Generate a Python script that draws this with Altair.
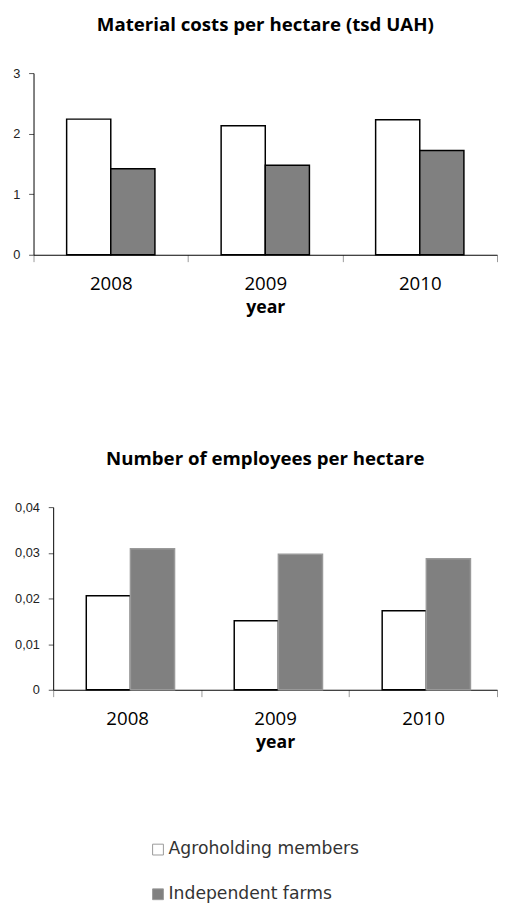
import altair as alt
import pandas as pd

years = ["2008", "2009", "2010"]
series = ["Agroholding members", "Independent farms"]
material_agro = [2.24, 2.13, 2.23]
material_indep = [1.42, 1.48, 1.72]
employees_agro = [0.0206, 0.0151, 0.0173]
employees_indep = [0.0309, 0.0297, 0.0287]

df1 = pd.DataFrame({
    "year": years * 2,
    "series": [series[0]] * 3 + [series[1]] * 3,
    "value": material_agro + material_indep,
})
df2 = pd.DataFrame({
    "year": years * 2,
    "series": [series[0]] * 3 + [series[1]] * 3,
    "value": employees_agro + employees_indep,
})

fill_scale = alt.Scale(domain=series, range=["white", "#808080"])
off_scale = alt.Scale(paddingOuter=0.75, paddingInner=0)


def x_axis():
    return alt.Axis(
        title="year", labelAngle=0, tickBand="extent", tickSize=7, tickColor="#999",
        domainColor="black", labelFont="Open Sans", labelFontSize=19, labelColor="black",
        labelPadding=13, titleFont="Open Sans", titleFontSize=18, titleFontWeight="bold",
        titleColor="black", titlePadding=6, grid=False,
    )


def y_axis(values, label_expr=None, offset=0):
    kw = dict(
        values=values, title=None, grid=False, tickSize=5, tickColor="#555",
        domainColor="black", labelFont="Liberation Sans", labelFontSize=13,
        labelColor="#222", labelPadding=9, offset=offset,
    )
    if label_expr:
        kw["labelExpr"] = label_expr
    return alt.Axis(**kw)


top = alt.Chart(df1).mark_bar(stroke="black", strokeWidth=1.5).encode(
    x=alt.X("year:N", sort=years,
            scale=alt.Scale(paddingInner=0, paddingOuter=0), axis=x_axis()),
    xOffset=alt.XOffset("series:N", sort=series, scale=off_scale),
    y=alt.Y("value:Q", scale=alt.Scale(domain=[0, 3]), axis=y_axis([0, 1, 2, 3])),
    fill=alt.Fill("series:N", scale=fill_scale, legend=alt.Legend(
        title=None, orient="none", legendX=118, legendY=782, direction="vertical",
        symbolType="square", symbolSize=121, symbolStrokeColor="black",
        symbolStrokeWidth=1, labelFont="DejaVu Sans", labelFontSize=17.5,
        labelColor="#333", rowPadding=26.5, labelOffset=2, labelLimit=400,
    )),
).properties(
    width=472, height=185,
    title=alt.TitleParams("Material costs per hectare (tsd UAH)", font="Open Sans",
                          fontSize=19, fontWeight="bold", color="black", offset=33),
)

bottom = alt.Chart(df2).mark_bar(strokeWidth=1.5).encode(
    x=alt.X("year:N", sort=years,
            scale=alt.Scale(paddingInner=0, paddingOuter=0, range=[20, 472]),
            axis=x_axis()),
    xOffset=alt.XOffset("series:N", sort=series, scale=off_scale),
    y=alt.Y("value:Q", scale=alt.Scale(domain=[0, 0.04]),
            axis=y_axis([0, 0.01, 0.02, 0.03, 0.04],
                        "replace(format(datum.value, '.2~f'), '.', ',')", offset=-20)),
    fill=alt.Fill("series:N", scale=fill_scale),
    stroke=alt.condition("datum.series == 'Agroholding members'",
                         alt.value("black"), alt.value("#999")),
).properties(
    width=472, height=186,
    title=alt.TitleParams("Number of employees per hectare", font="Open Sans",
                          fontSize=19, fontWeight="bold", color="black", offset=33),
)

chart = alt.vconcat(top, bottom, spacing=136).properties(
    padding={"left": 4, "top": 0, "right": 0, "bottom": 0}, background="white"
).configure_view(stroke=None).configure_title(anchor="middle")

chart.save("out.html", embed_options={"renderer": "svg", "actions": False})
